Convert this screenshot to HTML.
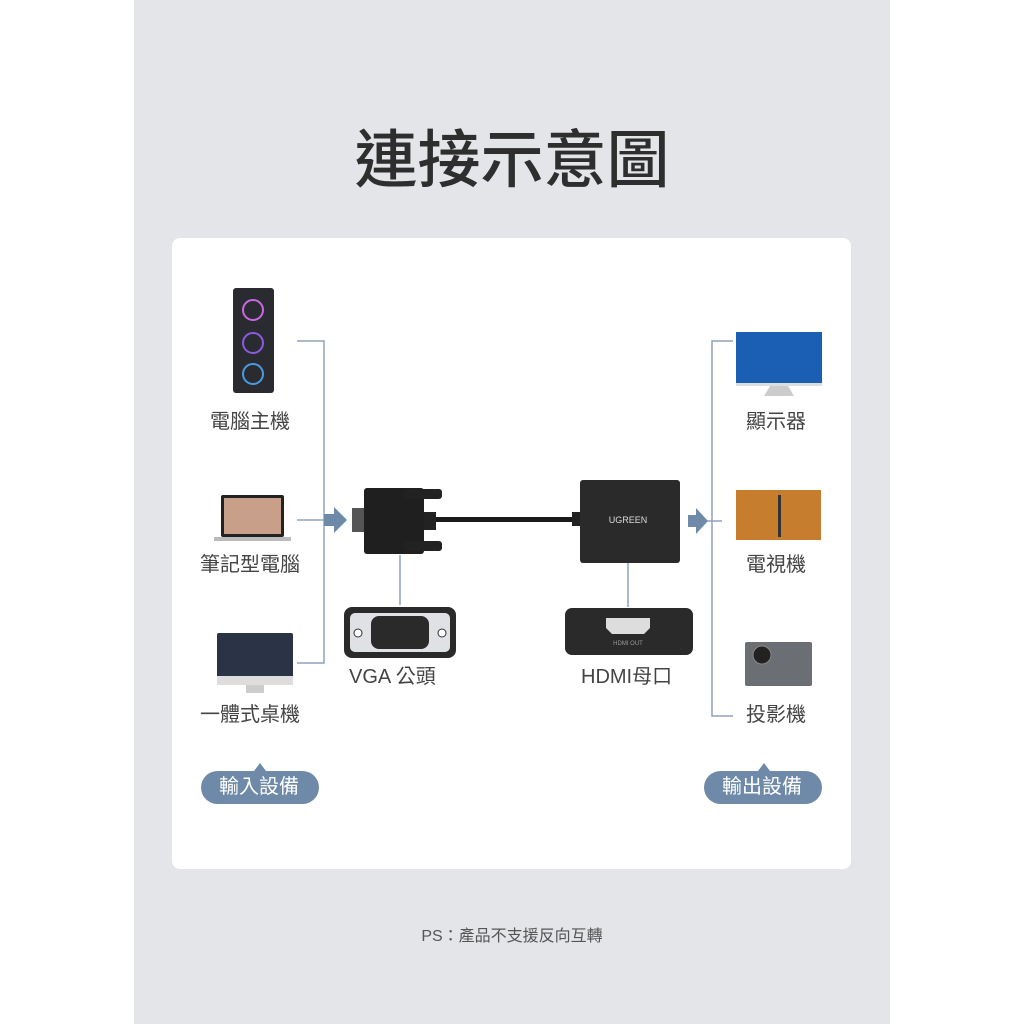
<!DOCTYPE html>
<html><head><meta charset="utf-8"><style>
body{margin:0;width:1024px;height:1024px;background:#fff;position:relative;overflow:hidden;font-family:"Liberation Sans","Noto Sans CJK TC",sans-serif}
.t{position:absolute;color:#444;font-size:20px;line-height:24px;white-space:nowrap}
</style></head><body>
<div style="position:absolute;left:134px;top:0;width:756px;height:1024px;background:#e4e5e9"></div>
<div style="position:absolute;left:0;width:1024px;top:116px;line-height:80px;text-align:center;font-size:63px;color:#2e2e2e;font-weight:500;font-family:'Noto Sans CJK TC',sans-serif">連接示意圖</div>
<div style="position:absolute;left:172px;top:238px;width:679px;height:631px;background:#fff;border-radius:8px"></div>
<svg style="position:absolute;left:0;top:0" width="1024" height="1024">
<g stroke="#8ea2ba" stroke-width="1.5" fill="none">
<path d="M297 341H324V663H297"/><path d="M297 520H328"/>
<path d="M733 341H712V716H733"/><path d="M688 521H722"/>
<path d="M400 555V605"/><path d="M628 562V607"/>
</g>
<path d="M324 514h10v-7l13 13-13 13v-7h-10z" fill="#6e8aa8"/>
<path d="M688 515h8v-7l12 13-12 13v-7h-8z" fill="#6e8aa8"/>
<!-- PC tower -->
<rect x="233" y="288" width="41" height="105" rx="3" fill="#2a2b30"/>
<circle cx="253" cy="310" r="10" fill="none" stroke="#c66adf" stroke-width="2"/>
<circle cx="253" cy="343" r="10" fill="none" stroke="#8a5ae0" stroke-width="2"/>
<circle cx="253" cy="374" r="10" fill="none" stroke="#4a9ae0" stroke-width="2"/>
<!-- laptop -->
<rect x="221" y="495" width="63" height="42" rx="2" fill="#222"/><rect x="224" y="498" width="57" height="36" fill="#c8a08a"/>
<rect x="214" y="537" width="77" height="4" fill="#bbb"/>
<!-- imac -->
<rect x="217" y="633" width="76" height="50" rx="2" fill="#2b3347"/><rect x="217" y="676" width="76" height="9" fill="#ddd"/>
<rect x="246" y="685" width="18" height="8" fill="#ccc"/>
<!-- VGA connector -->
<rect x="352" y="508" width="14" height="24" fill="#555"/>
<rect x="364" y="488" width="60" height="66" rx="3" fill="#1f1f1f"/>
<rect x="404" y="489" width="38" height="10" rx="3" fill="#222"/><rect x="404" y="541" width="38" height="10" rx="3" fill="#222"/>
<rect x="424" y="512" width="12" height="18" fill="#222"/>
<rect x="436" y="517" width="142" height="5" fill="#1a1a1a"/>
<rect x="572" y="512" width="10" height="14" fill="#222"/>
<!-- adapter -->
<rect x="580" y="480" width="100" height="83" rx="3" fill="#2a2a2a"/>
<text x="628" y="523" fill="#ddd" font-size="9" text-anchor="middle">UGREEN</text>
<!-- VGA detail -->
<rect x="344" y="607" width="112" height="51" rx="8" fill="#2a2a2a"/>
<rect x="350" y="613" width="100" height="39" rx="5" fill="#dfe1e4"/>
<rect x="371" y="616" width="58" height="33" rx="8" fill="#2a2a2a"/>
<circle cx="358" cy="633" r="4" fill="#fff" stroke="#333"/><circle cx="442" cy="633" r="4" fill="#fff" stroke="#333"/>
<!-- HDMI detail -->
<rect x="565" y="608" width="128" height="47" rx="7" fill="#2a2a2a"/>
<path d="M606 618h44v10l-6 6h-32l-6-6z" fill="#ddd"/>
<text x="628" y="645" fill="#999" font-size="6" text-anchor="middle">HDMI OUT</text>
<!-- right devices -->
<rect x="736" y="332" width="86" height="51" fill="#1a5fb4"/><rect x="736" y="383" width="86" height="3" fill="#ddd"/><path d="M770 386l-6 10h30l-6-10z" fill="#ccc"/>
<rect x="736" y="490" width="85" height="50" fill="#c67d2e"/><rect x="778" y="495" width="3" height="42" fill="#333"/>
<rect x="745" y="642" width="67" height="44" rx="2" fill="#6b6e73"/><circle cx="762" cy="655" r="9" fill="#222" stroke="#888"/>
<!-- pills -->
<path d="M254 771l6-8 6 8z" fill="#6e8aa8"/><rect x="201" y="771" width="118" height="33" rx="16.5" fill="#6e8aa8"/>
<path d="M758 771l6-8 6 8z" fill="#6e8aa8"/><rect x="704" y="771" width="118" height="33" rx="16.5" fill="#6e8aa8"/>
</svg>
<div class="t" style="left:210px;top:410px">電腦主機</div>
<div class="t" style="left:200px;top:553px">筆記型電腦</div>
<div class="t" style="left:200px;top:703px">一體式桌機</div>
<div class="t" style="left:349px;top:665px">VGA 公頭</div>
<div class="t" style="left:581px;top:665px">HDMI母口</div>
<div class="t" style="left:746px;top:410px">顯示器</div>
<div class="t" style="left:746px;top:553px">電視機</div>
<div class="t" style="left:746px;top:703px">投影機</div>
<div class="t" style="left:219px;top:775px;color:#fff">輸入設備</div>
<div class="t" style="left:722px;top:775px;color:#fff">輸出設備</div>
<div class="t" style="left:0;width:1024px;text-align:center;top:925px;font-size:16px;color:#555">PS：產品不支援反向互轉</div>
</body></html>
